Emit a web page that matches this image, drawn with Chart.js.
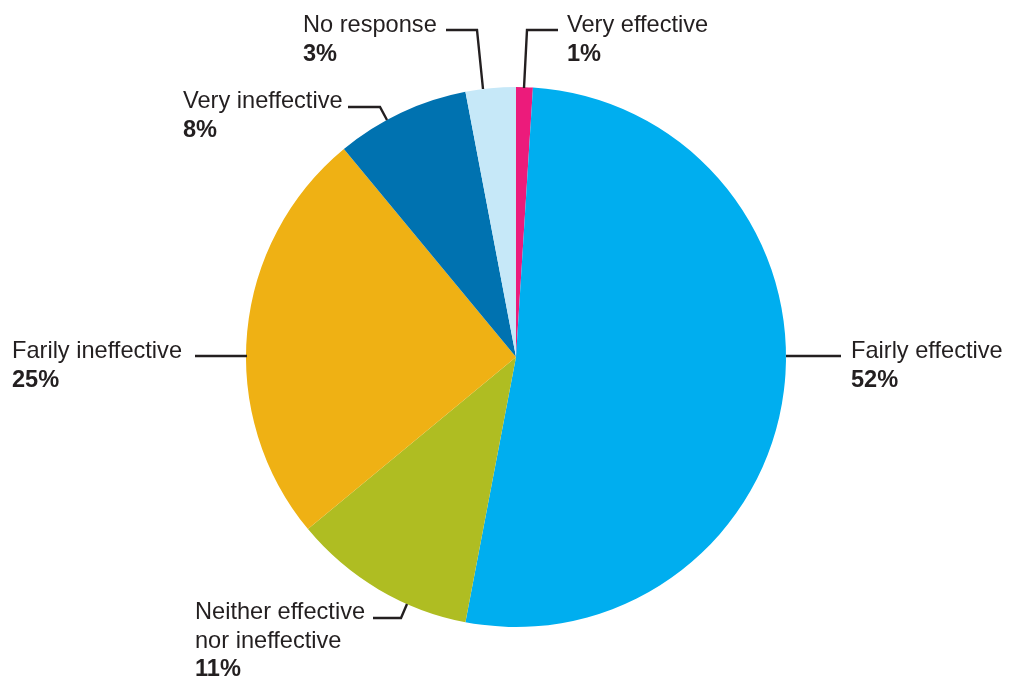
<!DOCTYPE html>
<html>
<head>
<meta charset="utf-8">
<script src="https://cdn.jsdelivr.net/npm/chart.js@4/dist/chart.umd.min.js"></script>
<style>
  html, body { margin: 0; padding: 0; background: #ffffff; }
  #wrap { width: 1011px; height: 679px; position: relative; }
</style>
</head>
<body>
<div id="wrap"><canvas id="pie" width="1011" height="679"></canvas></div>
<script>
// Survey responses, in drawing order clockwise from 12 o'clock
const categories = ['Very effective', 'Fairly effective', 'Neither effective nor ineffective',
                    'Farily ineffective', 'Very ineffective', 'No response'];
const shares = [1, 52, 11, 25, 8, 3];
const labelLines = [
  ['Very effective'],
  ['Fairly effective'],
  ['Neither effective', 'nor ineffective'],
  ['Farily ineffective'],
  ['Very ineffective'],
  ['No response']
];
const sliceColors = ['#ec1b7b', '#00aeef', '#afbd22', '#efb114', '#0072b0', '#c6e8f8'];

// Where each label sits and how its leader runs from the slice edge to the text
const labelLayout = [
  { x: 567, y: 32,  leader: [[524, 88], [527, 30], [558, 30]] },
  { x: 851, y: 358, leader: [[786, 356], [841, 356]] },
  { x: 195, y: 619, leader: [[407, 604], [401, 618], [373, 618]] },
  { x: 12,  y: 358, leader: [[247, 356], [195, 356]] },
  { x: 183, y: 108, leader: [[387, 120], [380, 107], [348, 107]] },
  { x: 303, y: 32,  leader: [[483, 89], [477, 30], [446, 30]] }
];

const FONT = '"Liberation Sans", Arial, Helvetica, sans-serif';
const LINE_H = 28.5;

const calloutPlugin = {
  id: 'callouts',
  afterDatasetsDraw(chart) {
    const ctx = chart.ctx;
    ctx.save();
    ctx.strokeStyle = '#231f20';
    ctx.lineWidth = 2.4;
    ctx.lineJoin = 'miter';
    labelLayout.forEach((lay, i) => {
      ctx.beginPath();
      lay.leader.forEach((p, k) => k ? ctx.lineTo(p[0], p[1]) : ctx.moveTo(p[0], p[1]));
      ctx.stroke();

      ctx.fillStyle = '#231f20';
      ctx.textAlign = 'left';
      ctx.textBaseline = 'alphabetic';
      ctx.font = '23.6px ' + FONT;
      const lines = labelLines[i];
      lines.forEach((t, k) => ctx.fillText(t, lay.x, lay.y + k * LINE_H));
      ctx.font = 'bold 23.6px ' + FONT;
      ctx.fillText(shares[i] + '%', lay.x, lay.y + lines.length * LINE_H);
    });
    ctx.restore();
  }
};

new Chart(document.getElementById('pie'), {
  type: 'pie',
  data: {
    labels: categories,
    datasets: [{
      data: shares,
      backgroundColor: sliceColors,
      borderWidth: 0,
      hoverOffset: 0
    }]
  },
  options: {
    responsive: false,
    animation: false,
    rotation: 0,
    layout: { padding: { left: 246, right: 225, top: 87, bottom: 52 } },
    plugins: {
      legend: { display: false },
      tooltip: { enabled: false }
    }
  },
  plugins: [calloutPlugin]
});
</script>
</body>
</html>
